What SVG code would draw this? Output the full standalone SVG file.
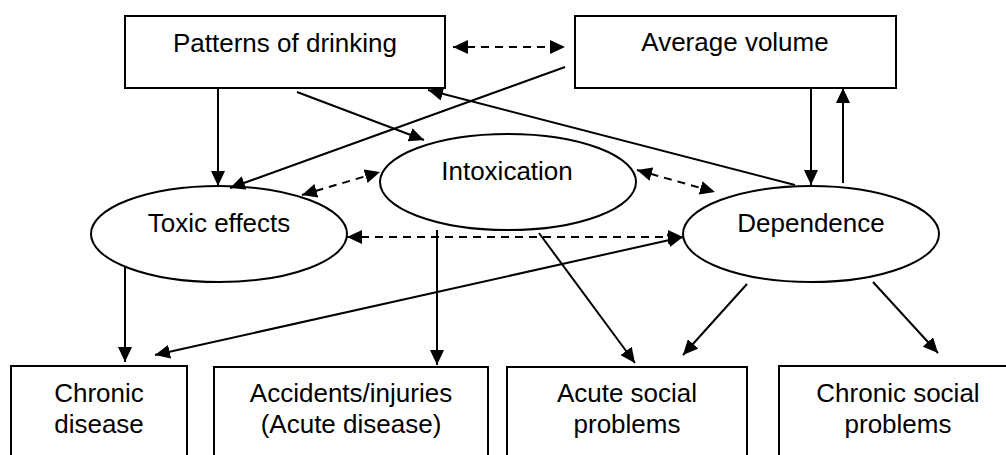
<svg xmlns="http://www.w3.org/2000/svg" width="1006" height="455" viewBox="0 0 1006 455">
<style>
.node rect, .node ellipse { fill: #fff; stroke: #000; stroke-width: 2; }
.node text { font-family: "Liberation Sans", Arial, sans-serif; font-size: 26px; fill: #000; text-anchor: middle; }
.conn line { stroke: #000; stroke-width: 2; fill: none; }
.conn .dash { stroke-dasharray: 8 6; }
</style>
<defs>
<marker id="ah" markerUnits="userSpaceOnUse" markerWidth="15" markerHeight="14" refX="15" refY="7" orient="auto-start-reverse" viewBox="0 0 15 14">
<path d="M0,0 L15,7 L0,14 z" fill="#000"/>
</marker>
</defs>
<rect width="1006" height="455" fill="#fff"/>
<g id="patterns" class="node"><rect x="125" y="16" width="320" height="72"/><text x="285" y="52">Patterns of drinking</text></g>
<g id="average" class="node"><rect x="575" y="16" width="321" height="72"/><text x="735" y="51">Average volume</text></g>
<g id="toxic" class="node"><ellipse cx="219" cy="234" rx="128" ry="48"/><text x="219" y="232">Toxic effects</text></g>
<g id="intox" class="node"><ellipse cx="508" cy="182" rx="128" ry="48"/><text x="507" y="180">Intoxication</text></g>
<g id="dependence" class="node"><ellipse cx="811" cy="234" rx="128" ry="48"/><text x="811" y="232">Dependence</text></g>
<g id="chronic" class="node"><rect x="11" y="366" width="176" height="110"/><text x="99" y="402">Chronic</text><text x="99" y="433">disease</text></g>
<g id="accidents" class="node"><rect x="214" y="367" width="274" height="110"/><text x="351" y="402">Accidents/injuries</text><text x="351" y="433">(Acute disease)</text></g>
<g id="acute" class="node"><rect x="507" y="367" width="240" height="110"/><text x="627" y="402">Acute social</text><text x="627" y="433">problems</text></g>
<g id="chronicsocial" class="node"><rect x="779" y="366" width="240" height="110"/><text x="898" y="402">Chronic social</text><text x="898" y="433">problems</text></g>
<g id="connectors" class="conn">
<line class="dash" x1="453" y1="47" x2="565" y2="47" marker-start="url(#ah)" marker-end="url(#ah)"/>
<line x1="565" y1="67" x2="230" y2="188" marker-end="url(#ah)"/>
<line x1="297" y1="92" x2="424" y2="140" marker-end="url(#ah)"/>
<line x1="795" y1="185" x2="428" y2="90" marker-end="url(#ah)"/>
<line x1="218" y1="88" x2="218" y2="186" marker-end="url(#ah)"/>
<line class="dash" x1="302" y1="195" x2="380" y2="172" marker-start="url(#ah)" marker-end="url(#ah)"/>
<line class="dash" x1="637" y1="170" x2="715" y2="192" marker-start="url(#ah)" marker-end="url(#ah)"/>
<line class="dash" x1="347" y1="237" x2="683" y2="237" marker-start="url(#ah)" marker-end="url(#ah)"/>
<line x1="155" y1="355" x2="683" y2="237" marker-start="url(#ah)" marker-end="url(#ah)"/>
<line x1="125" y1="267" x2="125" y2="362" marker-end="url(#ah)"/>
<line x1="437" y1="230" x2="437" y2="365" marker-end="url(#ah)"/>
<line x1="539" y1="233" x2="635" y2="363" marker-end="url(#ah)"/>
<line x1="747" y1="284" x2="683" y2="355" marker-end="url(#ah)"/>
<line x1="873" y1="282" x2="938" y2="353" marker-end="url(#ah)"/>
<line x1="811" y1="88" x2="811" y2="185" marker-end="url(#ah)"/>
<line x1="843" y1="183" x2="843" y2="88" marker-end="url(#ah)"/>
</g>
</svg>
